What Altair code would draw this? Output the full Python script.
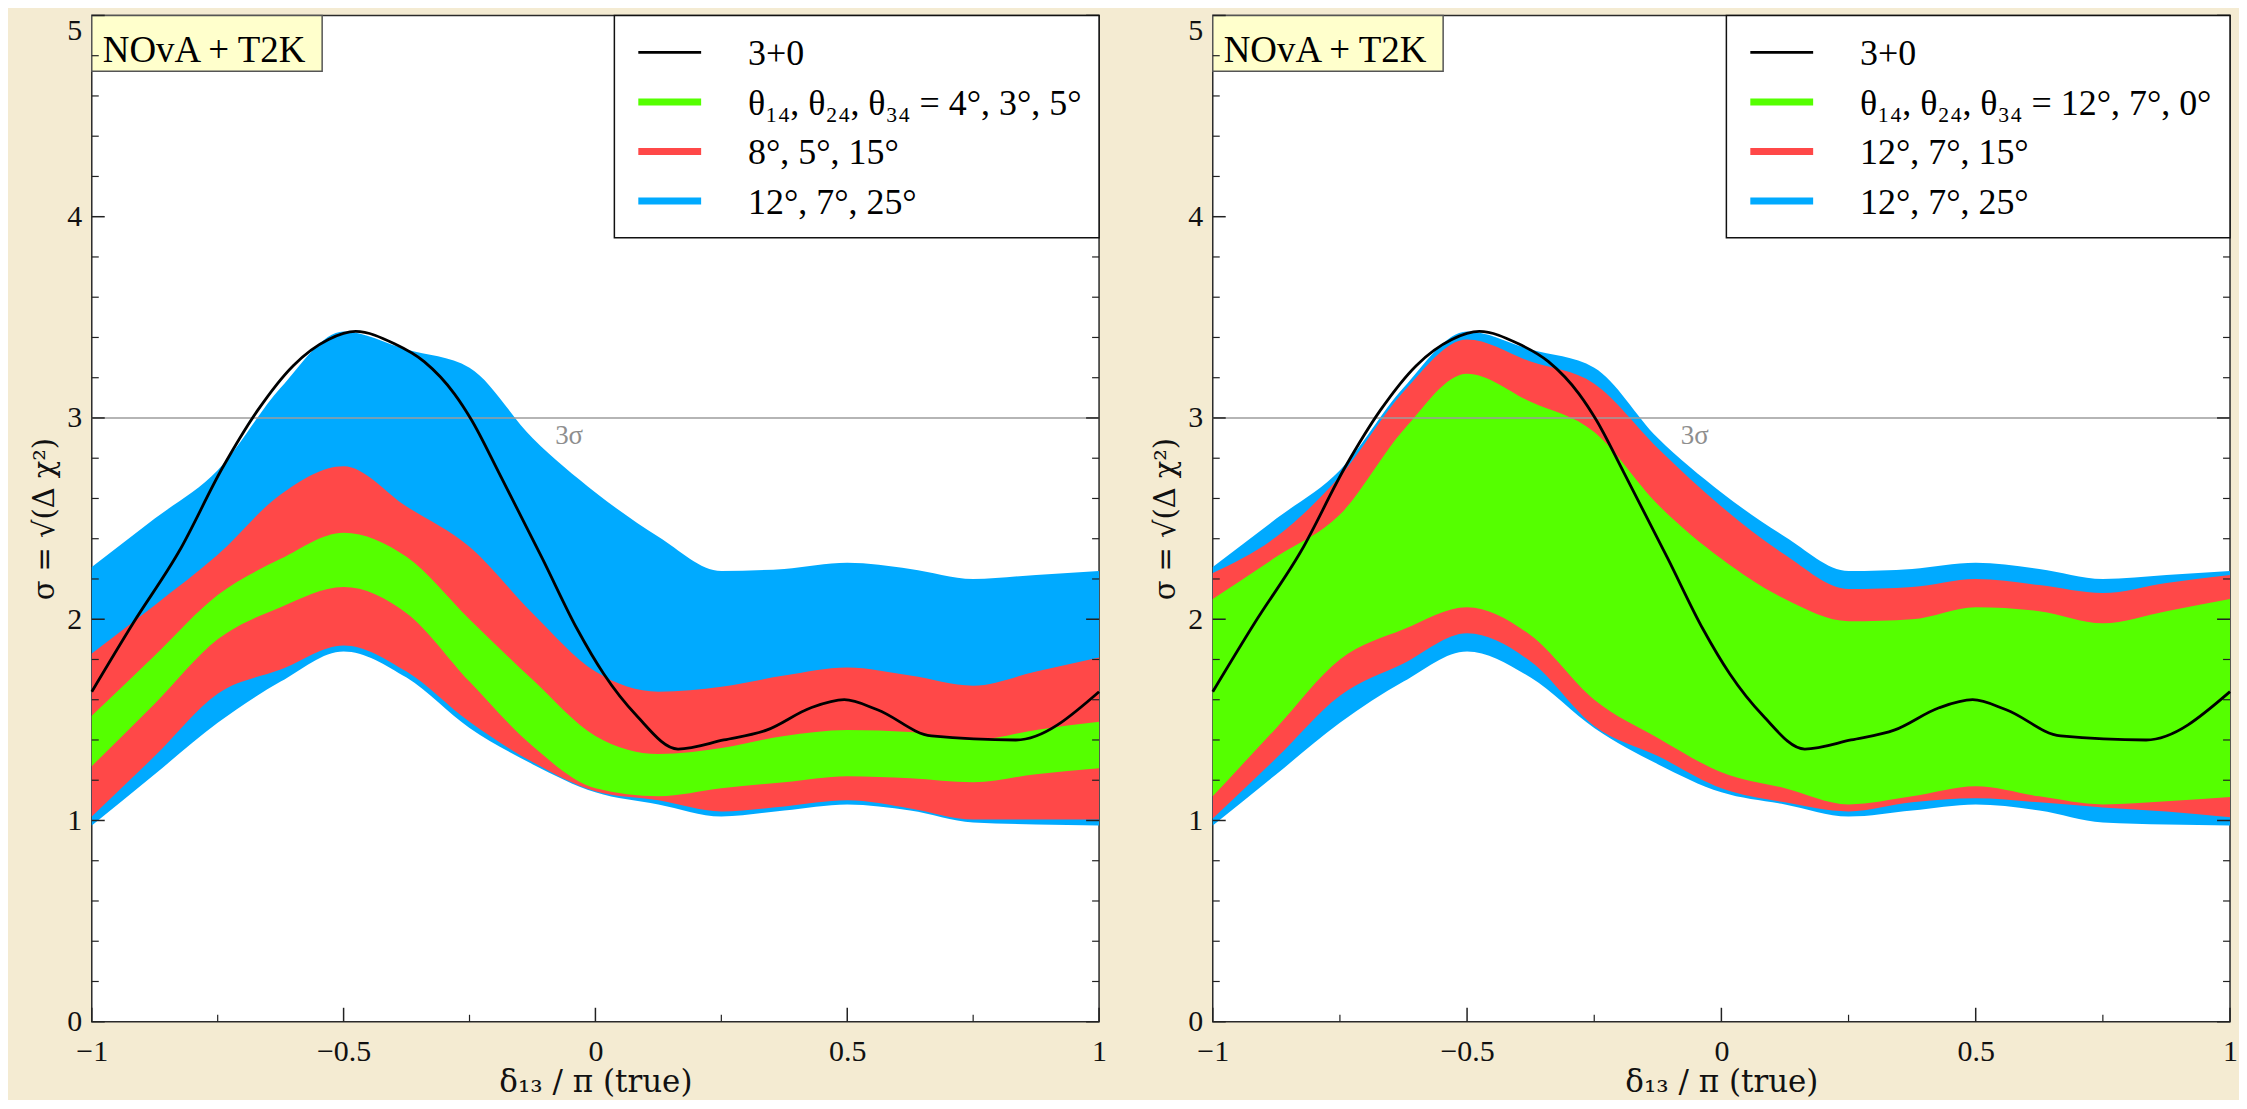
import altair as alt
import pandas as pd

# ---------------- data ----------------
X_GRID = [-1, -0.875, -0.75, -0.625, -0.5, -0.375, -0.25, -0.125, 0,
          0.125, 0.25, 0.375, 0.5, 0.625, 0.75, 0.875, 1]

# standard 3+0 curve
STD_X = [-1, -0.918, -0.826, -0.741, -0.67, -0.6, -0.53, -0.476, -0.4, -0.34,
         -0.28, -0.246, -0.192, -0.105, -0.036, 0.016, 0.082, 0.164, 0.255,
         0.341, 0.428, 0.494, 0.56, 0.667, 0.835, 1.0]
STD_Y = [1.64, 1.98, 2.34, 2.75, 3.04, 3.26, 3.39, 3.43, 3.37, 3.28,
         3.12, 2.99, 2.73, 2.30, 1.95, 1.73, 1.52, 1.355, 1.40,
         1.45, 1.56, 1.60, 1.55, 1.42, 1.40, 1.64]

# 12, 7, 25 band (both panels)
BLUE_LO = [0.975, 1.23, 1.485, 1.69, 1.84, 1.71, 1.46, 1.28, 1.14,
           1.08, 1.02, 1.05, 1.08, 1.05, 0.99, 0.98, 0.975]
BLUE_HI = [2.26, 2.50, 2.74, 3.15, 3.43, 3.34, 3.25, 2.90, 2.63,
           2.41, 2.24, 2.25, 2.28, 2.25, 2.20, 2.22, 2.24]

# left panel
L_RED_LO = [1.02, 1.32, 1.63, 1.75, 1.87, 1.74, 1.49, 1.29, 1.145,
            1.10, 1.045, 1.07, 1.10, 1.06, 1.005, 1.005, 1.005]
L_RED_HI = [1.83, 2.07, 2.32, 2.62, 2.76, 2.56, 2.36, 2.03, 1.74,
            1.64, 1.665, 1.72, 1.76, 1.72, 1.67, 1.74, 1.81]
L_GREEN_LO = [1.27, 1.58, 1.90, 2.06, 2.16, 2.03, 1.69, 1.37, 1.16,
              1.12, 1.16, 1.19, 1.22, 1.21, 1.19, 1.23, 1.26]
L_GREEN_HI = [1.52, 1.82, 2.12, 2.30, 2.43, 2.31, 2.00, 1.70, 1.42,
              1.33, 1.36, 1.42, 1.45, 1.44, 1.40, 1.45, 1.49]

# right panel
R_RED_LO = [1.01, 1.31, 1.62, 1.78, 1.93, 1.79, 1.47, 1.32, 1.16,
            1.09, 1.045, 1.09, 1.11, 1.09, 1.065, 1.045, 1.016]
R_RED_HI = [2.23, 2.41, 2.71, 3.13, 3.39, 3.28, 3.17, 2.85, 2.56,
            2.32, 2.15, 2.16, 2.20, 2.17, 2.13, 2.18, 2.22]
R_GREEN_LO = [1.12, 1.46, 1.80, 1.95, 2.06, 1.92, 1.60, 1.41, 1.24,
              1.16, 1.08, 1.12, 1.17, 1.12, 1.08, 1.095, 1.117]
R_GREEN_HI = [2.10, 2.31, 2.52, 2.94, 3.22, 3.08, 2.93, 2.57, 2.30,
              2.10, 1.99, 2.00, 2.06, 2.04, 1.98, 2.04, 2.10]

LEFT_LABELS = ["3+0", "θ₁₄, θ₂₄, θ₃₄ = 4°, 3°, 5°", "8°, 5°, 15°", "12°, 7°, 25°"]
RIGHT_LABELS = ["3+0", "θ₁₄, θ₂₄, θ₃₄ = 12°, 7°, 0°", "12°, 7°, 15°", "12°, 7°, 25°"]
COLORS = ["#000000", "#55ff00", "#ff4848", "#00aaff"]

EXPERIMENT = ["NOvA + T2K"]
SIGMA_LEVEL = [3]
SIGMA_TEXT = ["3σ"]

X_MAJOR = [-1, -0.5, 0, 0.5, 1]
X_MINOR = [-0.75, -0.25, 0.25, 0.75]
Y_MAJOR = [0, 1, 2, 3, 4, 5]
Y_MINOR = [0.2, 0.4, 0.6, 0.8, 1.2, 1.4, 1.6, 1.8, 2.2, 2.4, 2.6, 2.8,
           3.2, 3.4, 3.6, 3.8, 4.2, 4.4, 4.6, 4.8]

FONT = "'Liberation Serif', 'DejaVu Serif', serif"
TFONT = "'DejaVu Serif', 'Liberation Serif', serif"
AXC = "#222222"
H = 1009


def panel(labels, red_lo, red_hi, green_lo, green_hi, W, legend_w):
    color_scale = alt.Scale(domain=labels, range=COLORS)
    x_scale = alt.Scale(domain=[-1, 1], nice=False, zero=False)
    y_scale = alt.Scale(domain=[0, 5], nice=False, zero=False)
    x_axis = alt.Axis(values=X_MAJOR, format="~g", title="δ₁₃ / π (true)",
                      ticks=False, domain=False, grid=False, labelFlush=False,
                      labelPadding=15, labelFontSize=30, titleFontSize=31,
                      titlePadding=1)
    y_axis = alt.Axis(values=Y_MAJOR, format="d", title="σ = √(Δ χ²)",
                      ticks=False, domain=False, grid=False, labelFlush=False,
                      labelPadding=10, labelFontSize=30, titleFontSize=29,
                      titlePadding=7,
                      labelBaseline={"condition": {"test": "datum.value == 5", "value": "top"},
                                     "value": "middle"})

    def X(f):
        return alt.X(f"{f}:Q", scale=x_scale, axis=x_axis)

    def Y(f):
        return alt.Y(f"{f}:Q", scale=y_scale, axis=y_axis)

    def col():
        return alt.Color("series:N", scale=color_scale, legend=None)

    layers = []
    for idx, lo, hi in [(3, BLUE_LO, BLUE_HI), (2, red_lo, red_hi), (1, green_lo, green_hi)]:
        df = pd.DataFrame({"x": X_GRID, "lo": lo, "hi": hi, "series": labels[idx]})
        layers.append(alt.Chart(df).mark_area(interpolate="monotone", opacity=1).encode(
            x=X("x"), y=Y("lo"), y2=alt.Y2("hi"), color=col()))

    layers.append(alt.Chart(pd.DataFrame({"v": SIGMA_LEVEL})).mark_rule(
        color="#9c9c9c", strokeWidth=1.6).encode(y=Y("v")))
    layers.append(alt.Chart(pd.DataFrame({"t": SIGMA_TEXT})).mark_text(
        align="left", baseline="alphabetic", fontSize=27, color="#8e8e8e", font=FONT).encode(
        x=alt.datum(-0.08), y=alt.datum(2.87), text="t:N"))

    std = pd.DataFrame({"x": STD_X, "y": STD_Y, "series": labels[0]})
    layers.append(alt.Chart(std).mark_line(interpolate="monotone", strokeWidth=2.8).encode(
        x=X("x"), y=Y("y"), color=col()))

    # experiment label box
    exp = pd.DataFrame({"t": EXPERIMENT})
    layers.append(alt.Chart(exp).mark_rect(fill="#ffffcc", stroke="#555555", strokeWidth=1.5).encode(
        x=alt.value(0), x2=alt.value(231), y=alt.value(0), y2=alt.value(56)))
    layers.append(alt.Chart(exp).mark_text(align="left", baseline="alphabetic", fontSize=37,
                                           font=FONT, color="black").encode(
        x=alt.value(11), y=alt.value(47), text="t:N"))

    # inward ticks
    ymaj = alt.Chart(pd.DataFrame({"v": Y_MAJOR})).mark_rule(color=AXC, strokeWidth=1.5)
    ymin = alt.Chart(pd.DataFrame({"v": Y_MINOR})).mark_rule(color=AXC, strokeWidth=1.2)
    xmaj = alt.Chart(pd.DataFrame({"v": X_MAJOR})).mark_rule(color=AXC, strokeWidth=1.5)
    xmin = alt.Chart(pd.DataFrame({"v": X_MINOR})).mark_rule(color=AXC, strokeWidth=1.2)
    layers += [
        ymaj.encode(y=Y("v"), x=alt.value(0), x2=alt.value(13)),
        ymaj.encode(y=Y("v"), x=alt.value(W), x2=alt.value(W - 13)),
        ymin.encode(y=Y("v"), x=alt.value(0), x2=alt.value(7)),
        ymin.encode(y=Y("v"), x=alt.value(W), x2=alt.value(W - 7)),
        xmaj.encode(x=X("v"), y=alt.value(H), y2=alt.value(H - 14)),
        xmin.encode(x=X("v"), y=alt.value(H), y2=alt.value(H - 7)),
    ]

    # legend
    lx = W - legend_w
    leg = pd.DataFrame({"series": ["legend"]})
    layers.append(alt.Chart(leg).mark_rect(fill="white", stroke="#111111", strokeWidth=1.5).encode(
        x=alt.value(lx), x2=alt.value(W), y=alt.value(0), y2=alt.value(223)))
    for i, lab in enumerate(labels):
        row = pd.DataFrame({"series": [lab]})
        yc = 37 + 49.7 * i
        sw = 2.8 if i == 0 else 7
        layers.append(alt.Chart(row).mark_rule(strokeWidth=sw).encode(
            x=alt.value(lx + 24), x2=alt.value(lx + 87), y=alt.value(yc), color=col()))
        layers.append(alt.Chart(row).mark_text(align="left", baseline="middle", fontSize=36,
                                               font=FONT, color="black").encode(
            x=alt.value(lx + 134), y=alt.value(yc + 2), text="series:N"))

    return alt.layer(*layers).properties(width=W, height=H)


left = panel(LEFT_LABELS, L_RED_LO, L_RED_HI, L_GREEN_LO, L_GREEN_HI, 1010, 486)
right = panel(RIGHT_LABELS, R_RED_LO, R_RED_HI, R_GREEN_LO, R_GREEN_HI, 1020, 505)

chart = alt.hconcat(left, right, spacing=114, bounds="flush").resolve_scale(
    color="independent"
).properties(
    background="#f4ebd2",
    padding={"left": 22, "top": 4, "right": 0, "bottom": 0},
).configure_view(
    fill="white", stroke="#2a2a2a", strokeWidth=1.5
).configure_axis(
    labelFont=FONT, titleFont=TFONT, labelColor="#111111", titleColor="#111111",
    titleFontWeight="normal"
).configure_text(font=FONT)

chart.save("out.html", embed_options={"renderer": "svg", "actions": False})
